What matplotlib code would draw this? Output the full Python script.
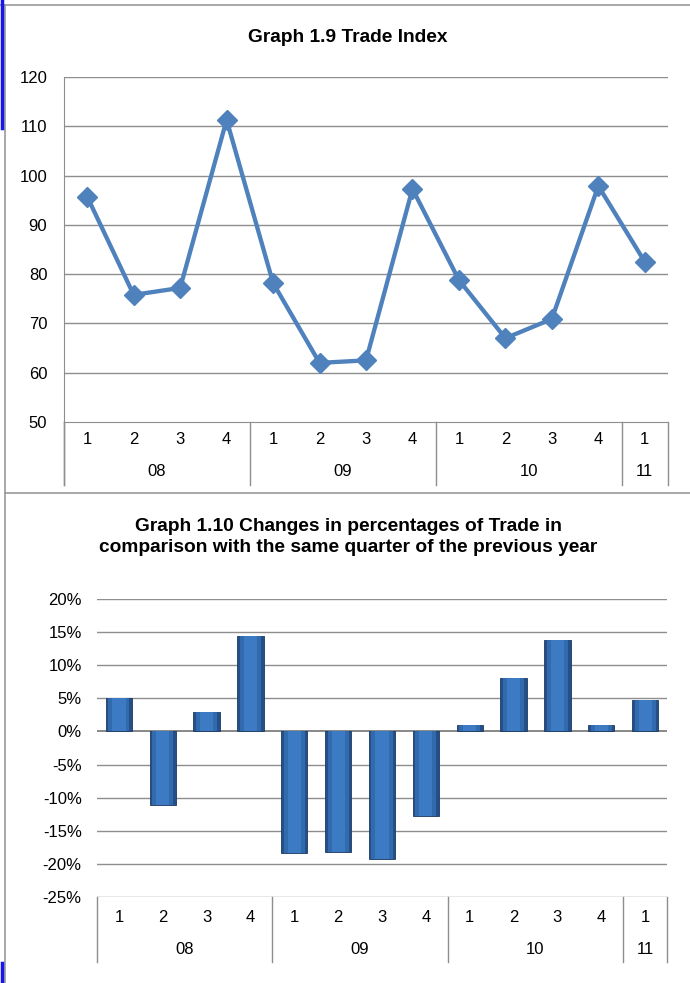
import numpy as np
import matplotlib
matplotlib.use('Agg')
import matplotlib.pyplot as plt

plt.rcParams['font.family'] = ['Liberation Sans', 'DejaVu Sans']

# Data
quarters = ['1', '2', '3', '4', '1', '2', '3', '4', '1', '2', '3', '4', '1']
years = ['08', '09', '10', '11']
year_sizes = [4, 4, 4, 1]

trade_index = [95.7, 75.8, 77.2, 111.3, 78.2, 62.0, 62.5, 97.3, 78.8, 67.0, 70.9, 97.9, 82.5]
trade_change = [5.0, -11.1, 2.9, 14.4, -18.3, -18.2, -19.2, -12.8, 0.9, 8.0, 13.8, 0.9, 4.7]

W, H = 690, 983
fig = plt.figure(figsize=(W / 100, H / 100), dpi=100)
grid_c = '#8E8E8E'
fs = 12
x = np.arange(len(quarters))


def px_axes(x0, y0, x1, y1):
    return fig.add_axes([x0 / W, 1 - y1 / H, (x1 - x0) / W, (y1 - y0) / H])


def category_axis(ax, h, row1, row2, depth):
    tr = ax.get_xaxis_transform()
    for i, q in enumerate(quarters):
        ax.text(i, -row1 / h, q, transform=tr, ha='center', va='center', fontsize=fs)
    start = 0
    bounds = [-0.5]
    for y, n in zip(years, year_sizes):
        ax.text(start + (n - 1) / 2, -row2 / h, y, transform=tr, ha='center', va='center', fontsize=fs)
        start += n
        bounds.append(start - 0.5)
    for b in bounds:
        ax.plot([b, b], [0, -depth / h], transform=tr, color=grid_c, lw=1, clip_on=False)


# frame around the two charts
fig.add_artist(plt.Line2D([0, 1], [1 - 5 / H, 1 - 5 / H], color='#9A9A9A', lw=1.2))
fig.add_artist(plt.Line2D([5 / W, 5 / W], [0, 1 - 5 / H], color='#9A9A9A', lw=1.2))
fig.add_artist(plt.Line2D([5 / W, 1], [1 - 493 / H, 1 - 493 / H], color='#9A9A9A', lw=1.2))
fig.add_artist(plt.Line2D([1.5 / W, 1.5 / W], [1 - 128 / H, 1], color='#1515F0', lw=2.5))
fig.add_artist(plt.Line2D([1.5 / W, 1.5 / W], [0, 1 - 963 / H], color='#1515F0', lw=2.5))

# ---- Graph 1.9 ----
ax1 = px_axes(64, 77, 668, 422)
h1 = 345
ax1.plot(x, trade_index, color='#4F81BD', lw=3.1, marker='D', markersize=10, zorder=3)
ax1.set_xlim(-0.5, len(quarters) - 0.5)
ax1.set_ylim(50, 120)
ax1.set_yticks(range(50, 121, 10))
ax1.set_xticks([])
for v in range(60, 121, 10):
    ax1.axhline(v, color=grid_c, lw=1, zorder=1)
for s in ['top', 'right']:
    ax1.spines[s].set_visible(False)
ax1.spines['left'].set_color(grid_c)
ax1.spines['bottom'].set_color(grid_c)
ax1.tick_params(axis='y', length=0, pad=12, labelsize=fs)
ax1.plot([-0.5, -0.5], [0, -63 / h1], transform=ax1.get_xaxis_transform(), color=grid_c, lw=1, clip_on=False)
category_axis(ax1, h1, 18, 50, 63)
fig.text(348 / W, 1 - 37 / H, 'Graph 1.9 Trade Index', ha='center', va='center',
         fontsize=13.8, fontweight='bold')

# ---- Graph 1.10 ----
ax2 = px_axes(97, 599, 667, 897)
h2 = 298
yt = list(range(-25, 21, 5))
for v in yt:
    ax2.axhline(v, color='#7F7F7F' if v == 0 else grid_c, lw=1.3 if v == 0 else 1, zorder=1)
ax2.bar(x, trade_change, width=0.6, color='#244F88', edgecolor='#1B3A63', lw=0.6, zorder=2)
ax2.bar(x, trade_change, width=0.48, color='#326AAE', lw=0, zorder=3)
ax2.bar(x, trade_change, width=0.3, color='#3C7AC4', lw=0, zorder=4)
ax2.set_xlim(-0.5, len(quarters) - 0.5)
ax2.set_ylim(-25, 20)
ax2.set_yticks(yt)
ax2.set_yticklabels([f'{v}%' for v in yt])
ax2.set_xticks([])
for s in ['top', 'right', 'left', 'bottom']:
    ax2.spines[s].set_visible(False)
ax2.tick_params(axis='y', length=0, pad=11, labelsize=fs)
category_axis(ax2, h2, 20, 53, 65)
fig.text(348 / W, 1 - 537 / H,
         'Graph 1.10 Changes in percentages of Trade in\ncomparison with the same quarter of the previous year',
         ha='center', va='center', fontsize=13.8, fontweight='bold', linespacing=1.3)

fig.savefig('out.png', dpi=100)
